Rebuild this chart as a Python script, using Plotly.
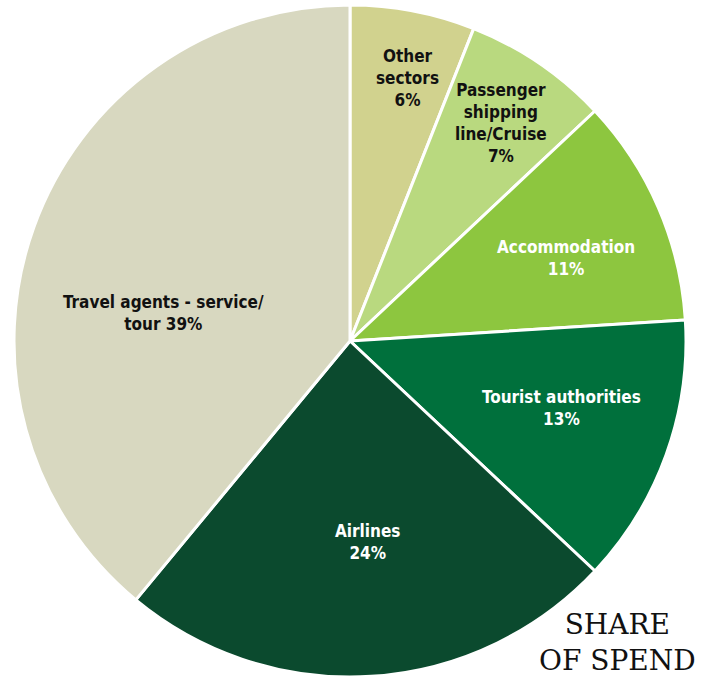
import math
import plotly.graph_objects as go

# Share of spend by sector (percent), clockwise from 12 o'clock
sectors = [
    "Other sectors",
    "Passenger shipping line/Cruise",
    "Accommodation",
    "Tourist authorities",
    "Airlines",
    "Travel agents - service/tour",
]
shares = [6, 7, 11, 13, 24, 39]
label_texts = [
    "Other<br>sectors<br>6%",
    "Passenger<br>shipping<br>line/Cruise<br>7%",
    "Accommodation<br>11%",
    "Tourist authorities<br>13%",
    "Airlines<br>24%",
    "Travel agents - service/<br>tour 39%",
]

colors = ["#D1D28E", "#B9D97F", "#8DC63F", "#00703C", "#0B4A2E", "#D8D8C0"]
text_colors = ["#111111", "#111111", "#FFFFFF", "#FFFFFF", "#FFFFFF", "#111111"]
# label placement inside each slice: radius as a fraction of the pie radius, angular nudge (deg)
label_radius = [0.80, 0.79, 0.69, 0.66, 0.60, 0.56]
label_nudge = [1.6, 0.6, 2.4, -2.3, -1.4, -11.3]

W, H = 718, 678
cx, cy, R = 350, 341, 336  # pie centre and radius in pixels (y from top)

fig = go.Figure(
    go.Pie(
        labels=sectors,
        values=shares,
        sort=False,
        direction="clockwise",
        rotation=0,
        textinfo="none",
        hoverinfo="label+percent",
        marker=dict(colors=colors, line=dict(color="#FFFFFF", width=3)),
        domain=dict(
            x=[(cx - R) / W, (cx + R) / W],
            y=[(H - cy - R) / H, (H - cy + R) / H],
        ),
        showlegend=False,
    )
)

annotations = []
total = sum(shares)
cum = 0
for txt, v, col, rf, nudge in zip(label_texts, shares, text_colors, label_radius, label_nudge):
    mid = (cum + v / 2) / total * 360 + nudge
    cum += v
    a = math.radians(mid)
    px = cx + rf * R * math.sin(a)
    py = cy - rf * R * math.cos(a)
    annotations.append(
        dict(
            x=px / W, y=1 - py / H, xref="paper", yref="paper",
            text=txt, showarrow=False, align="center",
            xanchor="center", yanchor="middle",
            font=dict(family="Liberation Sans Narrow, DejaVu Sans Condensed, Arial Narrow, sans-serif",
                      size=17, color=col, weight="bold"),
        )
    )

annotations.append(
    dict(
        x=617 / W, y=1 - 642 / H, xref="paper", yref="paper",
        text="SHARE<br>OF SPEND", showarrow=False, align="center",
        xanchor="center", yanchor="middle",
        font=dict(family="DejaVu Serif, serif", size=28, color="#111111"),
    )
)

fig.update_layout(
    width=W, height=H,
    margin=dict(l=0, r=0, t=0, b=0),
    paper_bgcolor="#FFFFFF",
    plot_bgcolor="#FFFFFF",
    annotations=annotations,
)

fig.write_html("out.html")
